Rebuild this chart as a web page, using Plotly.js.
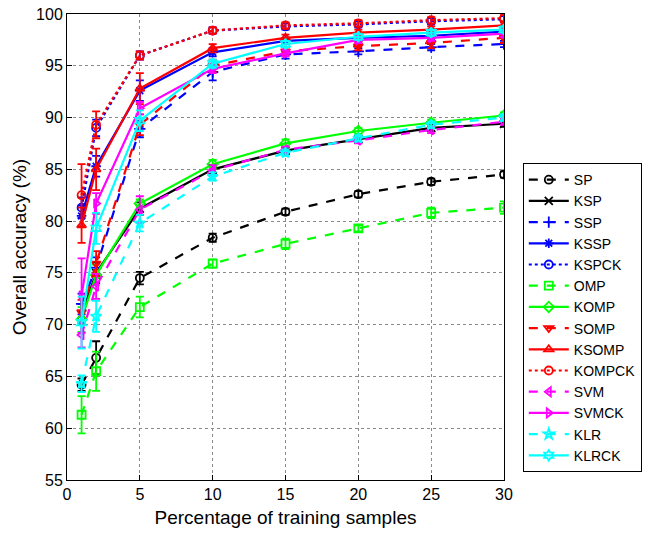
<!DOCTYPE html>
<html>
<head>
<meta charset="utf-8">
<script src="https://cdn.plot.ly/plotly-3.0.1.min.js"></script>
<style>html,body{margin:0;padding:0;background:#fff;}#chart{width:654px;height:535px;}</style>
</head>
<body>
<div id="chart"></div>
<script>
const xVals = [1, 2, 5, 10, 15, 20, 25, 30];

const names = ["SP","KSP","SSP","KSSP","KSPCK","OMP","KOMP","SOMP","KSOMP","KOMPCK","SVM","SVMCK","KLR","KLRCK"];

const SP     = [64.2, 66.8, 74.5, 78.4, 80.9, 82.6, 83.8, 84.5];
const KSP    = [71.0, 75.0, 81.2, 85.0, 86.8, 87.9, 89.0, 89.4];
const SSP    = [72.0, 75.5, 88.9, 94.4, 96.1, 96.4, 96.8, 97.1];
const KSSP   = [80.5, 85.3, 92.6, 96.3, 97.4, 97.7, 97.9, 98.3];
const KSPCK  = [81.3, 89.0, 96.0, 98.4, 98.8, 99.0, 99.3, 99.5];
const OMP    = [61.3, 65.5, 71.7, 75.9, 77.8, 79.3, 80.8, 81.3];
const KOMP   = [70.5, 74.8, 81.7, 85.5, 87.5, 88.7, 89.5, 90.2];
const SOMP   = [71.2, 75.9, 89.3, 95.0, 96.4, 96.9, 97.2, 97.7];
const KSOMP  = [79.6, 85.0, 92.8, 96.7, 97.7, 98.2, 98.5, 98.9];
const KOMPCK = [82.5, 89.3, 96.0, 98.4, 98.9, 99.1, 99.4, 99.6];
const SVM    = [69.0, 73.7, 81.1, 84.9, 86.9, 87.8, 88.8, 89.6];
const SVMCK  = [72.8, 81.7, 90.9, 94.7, 96.2, 97.5, 97.7, 98.1];
const KLR    = [64.3, 70.8, 79.8, 84.3, 86.6, 88.0, 89.3, 90.0];
const KLRCK  = [70.2, 79.3, 89.7, 95.2, 97.1, 97.8, 98.2, 98.5];

const errSP     = [0.6, 1.6, 0.6, 0.4, 0.3, 0.3, 0.3, 0.3];
const errKSP    = [1.0, 1.0, 0.6, 0.4, 0.3, 0.3, 0.3, 0.3];
const errSSP    = [1.0, 1.0, 0.8, 0.8, 0.4, 0.3, 0.3, 0.3];
const errKSSP   = [1.0, 1.0, 1.0, 0.4, 0.3, 0.3, 0.3, 0.3];
const errKSPCK  = [1.0, 0.8, 0.4, 0.3, 0.3, 0.3, 0.3, 0.3];
const errOMP    = [1.8, 1.9, 1.0, 0.4, 0.5, 0.3, 0.5, 0.6];
const errKOMP   = [1.2, 1.0, 0.4, 0.4, 0.4, 0.3, 0.3, 0.3];
const errSOMP   = [1.2, 1.2, 1.0, 0.6, 0.4, 0.4, 0.5, 0.5];
const errKSOMP  = [1.7, 2.0, 1.5, 0.4, 0.3, 0.3, 0.3, 0.3];
const errKOMPCK = [3.0, 1.3, 0.4, 0.3, 0.3, 0.3, 0.3, 0.3];
const errSVM    = [1.2, 1.2, 1.3, 0.5, 0.3, 0.3, 0.3, 0.3];
const errSVMCK  = [3.6, 1.0, 0.6, 0.4, 0.3, 0.3, 0.3, 0.3];
const errKLR    = [0.8, 1.5, 0.8, 0.4, 0.3, 0.3, 0.3, 0.3];
const errKLRCK  = [2.5, 1.5, 1.0, 0.4, 0.3, 0.3, 0.3, 0.3];

const seriesY = [SP, KSP, SSP, KSSP, KSPCK, OMP, KOMP, SOMP, KSOMP, KOMPCK, SVM, SVMCK, KLR, KLRCK];
const seriesErr = [errSP, errKSP, errSSP, errKSSP, errKSPCK, errOMP, errKOMP, errSOMP, errKSOMP, errKOMPCK, errSVM, errSVMCK, errKLR, errKLRCK];

const colors = ["#000000","#000000","#0000ff","#0000ff","#0000ff","#00ff00","#00ff00","#ff0000","#ff0000","#ff0000","#ff00ff","#ff00ff","#00ffff","#00ffff"];
const dashes = ["dash","solid","dash","solid","dot","dash","solid","dash","solid","dot","dash","solid","dash","solid"];
const symbols = ["circle-open","x-thin-open","cross-thin-open","asterisk-open","circle-open","square-open","diamond-open","triangle-down-open","triangle-up-open","circle-open","triangle-left-open","triangle-right-open","star-open","hexagram-open"];

const traces = names.map((n, i) => ({
  type: "scatter",
  mode: "lines+markers",
  name: n,
  x: xVals,
  y: seriesY[i],
  line: {color: colors[i], width: 2.2, dash: dashes[i]},
  marker: {symbol: symbols[i], size: 8, color: colors[i], line: {color: colors[i], width: 1.8}},
  error_y: {type: "data", array: seriesErr[i], visible: true, color: colors[i], thickness: 1.8, width: 4}
}));

const layout = {
  width: 654,
  height: 535,
  margin: {l: 67, r: 147, t: 14, b: 55},
  paper_bgcolor: "#ffffff",
  plot_bgcolor: "#ffffff",
  font: {family: "Liberation Sans, Arial, sans-serif", size: 16, color: "#000"},
  showlegend: true,
  legend: {
    x: 1.043, xanchor: "left", y: 0.68, yanchor: "top",
    bgcolor: "#ffffff", bordercolor: "#000000", borderwidth: 1,
    font: {family: "Liberation Sans, Arial, sans-serif", size: 14, color: "#000"},
    tracegroupgap: 0, itemwidth: 40
  },
  xaxis: {
    range: [0, 30], tickvals: [0,5,10,15,20,25,30], ticktext: ["0","5","10","15","20","25","30"],
    showgrid: true, gridcolor: "#8a8a8a", griddash: "dot", gridwidth: 1,
    zeroline: false, showline: true, linecolor: "#000", linewidth: 1, mirror: true,
    ticks: "inside", ticklen: 5, tickcolor: "#000",
    tickfont: {size: 16, color: "#000"},
    title: {text: "Percentage of training samples", font: {size: 19, color: "#000"}, standoff: 8}
  },
  yaxis: {
    range: [55, 100], tickvals: [55,60,65,70,75,80,85,90,95,100],
    showgrid: true, gridcolor: "#8a8a8a", griddash: "dot", gridwidth: 1,
    zeroline: false, showline: true, linecolor: "#000", linewidth: 1, mirror: true,
    ticks: "inside", ticklen: 5, tickcolor: "#000",
    tickfont: {size: 16, color: "#000"},
    title: {text: "Overall accuracy (%)", font: {size: 19, color: "#000"}, standoff: 4}
  }
};

Plotly.newPlot("chart", traces, layout, {displayModeBar: false, staticPlot: true});
</script>
</body>
</html>
